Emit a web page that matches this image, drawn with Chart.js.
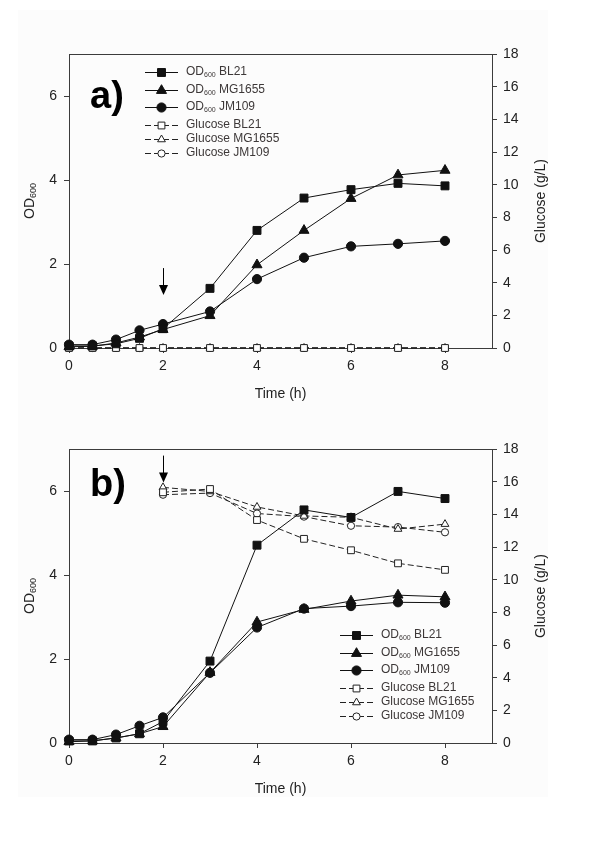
<!DOCTYPE html>
<html>
<head>
<meta charset="utf-8">
<script src="https://cdn.jsdelivr.net/npm/chart.js@4.4.1/dist/chart.umd.min.js"></script>
<style>
  body { margin: 0; background: #fff; width: 600px; height: 841px; position: relative; overflow: hidden; }
  #bg { position: absolute; left: 18px; top: 10px; width: 530px; height: 787px; background: #fcfcfc; }
  .panel { position: absolute; left: 0; width: 600px; height: 420px; }
</style>
</head>
<body>
<div id="bg"></div>
<div class="panel" style="top:0"><canvas id="chartA" width="600" height="420"></canvas></div>
<div class="panel" style="top:420px"><canvas id="chartB" width="600" height="420"></canvas></div>
<script>
const $ = id => document.getElementById(id);

// time points (h)
const timeOD = [0, 0.5, 1, 1.5, 2, 3, 4, 5, 6, 7, 8];
const timeGlcA = [0, 0.5, 1, 1.5, 2, 3, 4, 5, 6, 7, 8];
const timeGlcB = [2, 3, 4, 5, 6, 7, 8];

// panel a) OD600
const odBL21A   = [0.05, 0.05, 0.10, 0.23, 0.46, 1.42, 2.80, 3.57, 3.77, 3.92, 3.86];
const odMG1655A = [0.03, 0.04, 0.12, 0.26, 0.44, 0.77, 1.98, 2.80, 3.56, 4.12, 4.23];
const odJM109A  = [0.08, 0.08, 0.20, 0.42, 0.57, 0.87, 1.64, 2.15, 2.42, 2.48, 2.55];
// panel a) glucose (g/L)
const glcBL21A   = [0, 0, 0, 0, 0, 0, 0, 0, 0, 0, 0];
const glcMG1655A = [0, 0, 0, 0, 0, 0, 0, 0, 0, 0, 0];
const glcJM109A  = [0, 0, 0, 0, 0, 0, 0, 0, 0, 0, 0];

// panel b) OD600
const odBL21B   = [0.05, 0.05, 0.12, 0.22, 0.51, 1.95, 4.71, 5.55, 5.37, 5.99, 5.82];
const odMG1655B = [0.03, 0.05, 0.12, 0.22, 0.39, 1.68, 2.88, 3.18, 3.38, 3.52, 3.48];
const odJM109B  = [0.08, 0.08, 0.20, 0.41, 0.61, 1.67, 2.75, 3.20, 3.26, 3.35, 3.34];
// panel b) glucose (g/L)
const glcBL21B   = [15.35, 15.55, 13.65, 12.50, 11.80, 11.00, 10.60];
const glcMG1655B = [15.65, 15.40, 14.45, 13.90, 13.82, 13.10, 13.40];
const glcJM109B  = [15.20, 15.30, 14.05, 13.86, 13.30, 13.22, 12.90];

const xTicks = [0, 2, 4, 6, 8];
const odTicks = [0, 2, 4, 6];
const glcTicks = [0, 2, 4, 6, 8, 10, 12, 14, 16, 18];

const FONT = '"Liberation Sans", Arial, sans-serif';
const AXIS = "#3c3c3c";
const INK = "#111";
const LEG_TEXT = "#3d3838";

const pts = (xs, ys) => xs.map((x, i) => ({ x, y: ys[i] }));

function od(label, xs, ys, style, r) {
  return {
    label, data: pts(xs, ys), yAxisID: "y",
    borderColor: INK, borderWidth: 1, tension: 0, clip: false,
    pointStyle: style, pointRadius: r, pointBackgroundColor: INK,
    pointBorderColor: INK, pointBorderWidth: 1
  };
}
function glc(label, xs, ys, style, r) {
  return {
    label, data: pts(xs, ys), yAxisID: "y1",
    borderColor: "#222", borderWidth: 1, borderDash: [6, 3], tension: 0, clip: false,
    pointStyle: style, pointRadius: r, pointBackgroundColor: "#fff",
    pointBorderColor: "#222", pointBorderWidth: 1
  };
}

// draw "OD" + subscript "600" + rest, returns width
function richText(ctx, text, x, y, size, measureOnly) {
  const m = text.match(/^OD600(.*)$/);
  ctx.font = size + "px " + FONT;
  if (!m) {
    if (!measureOnly) ctx.fillText(text, x, y);
    return ctx.measureText(text).width;
  }
  const subSize = Math.round(size * 0.62);
  let w = 0;
  ctx.font = size + "px " + FONT;
  if (!measureOnly) ctx.fillText("OD", x, y);
  w += ctx.measureText("OD").width;
  ctx.font = subSize + "px " + FONT;
  if (!measureOnly) ctx.fillText("600", x + w, y + size * 0.28);
  w += ctx.measureText("600").width;
  ctx.font = size + "px " + FONT;
  if (!measureOnly) ctx.fillText(m[1], x + w, y);
  w += ctx.measureText(m[1]).width;
  return w;
}

const legendRows = [0, 17.5, 35, 52.5, 66.5, 81];

const deco = {
  id: "deco",
  afterDraw(chart, args, o) {
    const { ctx, chartArea: a, scales } = chart;
    ctx.save();

    // top frame line
    ctx.strokeStyle = AXIS;
    ctx.lineWidth = 1;
    ctx.beginPath();
    ctx.moveTo(a.left, Math.round(a.top) + 0.5);
    ctx.lineTo(a.right, Math.round(a.top) + 0.5);
    ctx.stroke();

    // panel tag
    ctx.fillStyle = "#000";
    ctx.textBaseline = "alphabetic";
    ctx.textAlign = "left";
    ctx.font = "bold 38px " + FONT;
    ctx.fillText(o.tag, o.tagX, o.tagY);

    // arrow at inoculation time
    const ax = Math.round(scales.x.getPixelForValue(o.arrowX)) + 0.5;
    const tip = scales.y.getPixelForValue(o.arrowTip);
    ctx.strokeStyle = "#000";
    ctx.fillStyle = "#000";
    ctx.beginPath();
    ctx.moveTo(ax, tip - 27);
    ctx.lineTo(ax, tip - 8);
    ctx.stroke();
    ctx.beginPath();
    ctx.moveTo(ax - 4.5, tip - 10);
    ctx.lineTo(ax + 4.5, tip - 10);
    ctx.lineTo(ax, tip);
    ctx.closePath();
    ctx.fill();

    // axis titles
    ctx.fillStyle = "#222";
    ctx.textBaseline = "middle";
    ctx.font = "14px " + FONT;
    ctx.textAlign = "center";
    ctx.fillText("Time (h)", (a.left + a.right) / 2, a.bottom + 46);

    const midY = (a.top + a.bottom) / 2;
    ctx.save();
    ctx.translate(30, midY);
    ctx.rotate(-Math.PI / 2);
    ctx.textAlign = "left";
    const w = richText(ctx, "OD600", 0, 0, 14, true);
    richText(ctx, "OD600", -w / 2, 0, 14);
    ctx.restore();

    ctx.save();
    ctx.translate(541, midY);
    ctx.rotate(-Math.PI / 2);
    ctx.textAlign = "center";
    ctx.font = "14px " + FONT;
    ctx.fillText("Glucose (g/L)", 0, 0);
    ctx.restore();

    // legend
    ctx.textAlign = "left";
    ctx.textBaseline = "middle";
    chart.data.datasets.forEach((ds, i) => {
      const y = o.legY + legendRows[i];
      const x0 = o.legX;
      ctx.strokeStyle = ds.borderColor;
      ctx.lineWidth = 1;
      ctx.setLineDash(ds.borderDash || []);
      ctx.beginPath();
      ctx.moveTo(x0, Math.round(y) + 0.5);
      ctx.lineTo(x0 + 33, Math.round(y) + 0.5);
      ctx.stroke();
      ctx.setLineDash([]);
      ctx.fillStyle = ds.pointBackgroundColor;
      ctx.strokeStyle = ds.pointBorderColor;
      Chart.helpers.drawPoint(ctx, {
        pointStyle: ds.pointStyle, radius: ds.pointRadius, rotation: 0, borderWidth: 1
      }, x0 + 16.5, Math.round(y) + 0.5);
      ctx.fillStyle = LEG_TEXT;
      richText(ctx, ds.label, x0 + 41, y, 12);
    });

    ctx.restore();
  }
};

function fixedTicks(list) {
  return scale => { scale.ticks = list.map(v => ({ value: v })); };
}

function makeChart(id, datasets, o) {
  const tickFont = { family: FONT, size: 14 };
  return new Chart($(id), {
    type: "line",
    data: { datasets },
    options: {
      responsive: false,
      animation: false,
      events: [],
      layout: { padding: { top: o.top, left: 0, right: 0, bottom: 0 } },
      plugins: { legend: { display: false }, tooltip: { enabled: false }, deco: o },
      scales: {
        x: {
          type: "linear", min: 0, max: 9,
          afterBuildTicks: fixedTicks(xTicks),
          afterFit: s => { s.height = o.xH; },
          grid: { drawOnChartArea: false, drawTicks: true, tickLength: 5, color: AXIS },
          border: { color: AXIS },
          ticks: { font: tickFont, color: "#222", padding: 5, maxRotation: 0 }
        },
        y: {
          type: "linear", position: "left", min: 0, max: 7,
          afterBuildTicks: fixedTicks(odTicks),
          afterFit: s => { s.width = 69; },
          grid: { drawOnChartArea: false, drawTicks: true, tickLength: 5, color: AXIS },
          border: { color: AXIS },
          ticks: { font: tickFont, color: "#222", padding: 7 }
        },
        y1: {
          type: "linear", position: "right", min: 0, max: 18,
          afterBuildTicks: fixedTicks(glcTicks),
          afterFit: s => { s.width = 108; },
          grid: { drawOnChartArea: false, drawTicks: true, tickLength: 5, color: AXIS },
          border: { color: AXIS },
          ticks: { font: tickFont, color: "#222", padding: 6 }
        }
      }
    },
    plugins: [deco]
  });
}

makeChart("chartA", [
  od("OD600 BL21", timeOD, odBL21A, "rect", 5.6),
  od("OD600 MG1655", timeOD, odMG1655A, "triangle", 5.8),
  od("OD600 JM109", timeOD, odJM109A, "circle", 4.6),
  glc("Glucose BL21", timeGlcA, glcBL21A, "rect", 4.8),
  glc("Glucose MG1655", timeGlcA, glcMG1655A, "triangle", 4.5),
  glc("Glucose JM109", timeGlcA, glcJM109A, "circle", 3.6)
], { top: 54, xH: 72, tag: "a)", tagX: 90, tagY: 108, arrowX: 2, arrowTip: 1.26, legX: 145, legY: 72 });

makeChart("chartB", [
  od("OD600 BL21", timeOD, odBL21B, "rect", 5.6),
  od("OD600 MG1655", timeOD, odMG1655B, "triangle", 5.8),
  od("OD600 JM109", timeOD, odJM109B, "circle", 4.6),
  glc("Glucose BL21", timeGlcB, glcBL21B, "rect", 4.8),
  glc("Glucose MG1655", timeGlcB, glcMG1655B, "triangle", 4.5),
  glc("Glucose JM109", timeGlcB, glcJM109B, "circle", 3.6)
], { top: 29, xH: 97, tag: "b)", tagX: 90, tagY: 76, arrowX: 2, arrowTip: 6.2, legX: 340, legY: 215 });
</script>
</body>
</html>
